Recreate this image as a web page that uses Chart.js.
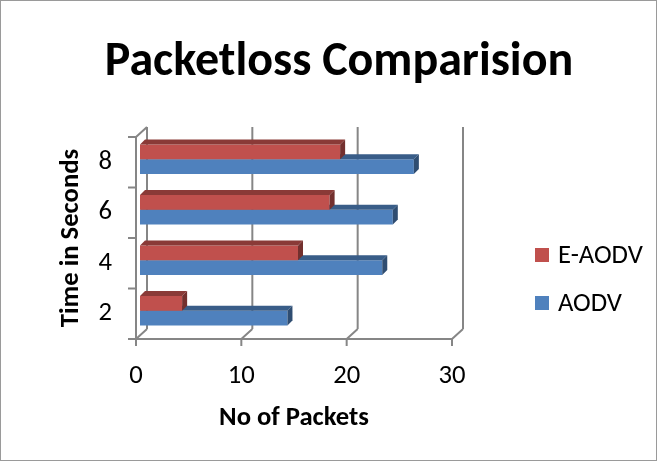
<!DOCTYPE html>
<html>
<head>
<meta charset="utf-8">
<script src="https://cdn.jsdelivr.net/npm/chart.js@4.4.1/dist/chart.umd.min.js"></script>
<style>
  html, body { margin: 0; padding: 0; background: #fff; }
  #wrap { width: 657px; height: 461px; }
</style>
</head>
<body>
<div id="wrap"><canvas id="chart" width="657" height="461"></canvas></div>
<script>
const categories = ['2', '4', '6', '8'];
const aodv = [14, 23, 24, 26];
const eAodv = [4, 15, 18, 19];
const xTicks = [0, 10, 20, 30];

const FONT = 'Carlito, Lato, "Liberation Sans", sans-serif';
const DX = 11, DY = -10;      // depth of the 3d box
const BAR_D = 5;              // depth of each bar
const GRID = '#868686';

function shade(hex, f) {
  let n = parseInt(hex.slice(1), 16);
  let r = Math.round(((n >> 16) & 255) * f), g = Math.round(((n >> 8) & 255) * f), b = Math.round((n & 255) * f);
  return 'rgb(' + r + ',' + g + ',' + b + ')';
}

const box3d = {
  id: 'box3d',
  beforeDraw(chart) {
    const c = chart.ctx;
    c.save();
    c.strokeStyle = '#9a9a9a';
    c.lineWidth = 1;
    c.strokeRect(0.5, 0.5, chart.width - 1, chart.height - 1);
    c.restore();
  },
  beforeDatasetsDraw(chart) {
    const c = chart.ctx, a = chart.chartArea, xs = chart.scales.x;
    c.save();
    c.strokeStyle = GRID;
    c.lineWidth = 2;
    c.beginPath();
    xTicks.forEach(v => {
      const x = xs.getPixelForValue(v);
      // back wall line
      c.moveTo(x + DX, a.top + DY);
      c.lineTo(x + DX, a.bottom + DY);
      // floor diagonal
      c.moveTo(x, a.bottom);
      c.lineTo(x + DX, a.bottom + DY);
      // tick mark
      c.moveTo(x, a.bottom);
      c.lineTo(x, a.bottom + 7);
    });
    // front axes
    c.moveTo(a.left, a.top);
    c.lineTo(a.left, a.bottom);
    c.lineTo(a.right, a.bottom);
    c.moveTo(a.left, a.top);
    c.lineTo(a.left + DX, a.top + DY);
    // category tick marks
    const n = categories.length;
    for (let i = 0; i <= n; i++) {
      const y = a.top + (a.bottom - a.top) * i / n;
      c.moveTo(a.left, y);
      c.lineTo(a.left - 8, y);
    }
    c.stroke();
    c.restore();

    c.save();
    c.translate(4, -3);
  },
  afterDatasetDraw(chart, args) {
    const c = chart.ctx, meta = args.meta;
    const col = chart.data.datasets[meta.index].backgroundColor;
    meta.data.forEach(bar => {
      const p = bar.getProps(['x', 'y', 'base', 'height'], true);
      const t = p.y - p.height / 2, b = p.y + p.height / 2;
      c.fillStyle = shade(col, 0.72);
      c.beginPath();
      c.moveTo(p.base, t);
      c.lineTo(p.base + BAR_D, t - BAR_D);
      c.lineTo(p.x + BAR_D, t - BAR_D);
      c.lineTo(p.x, t);
      c.closePath();
      c.fill();
      c.fillStyle = shade(col, 0.6);
      c.beginPath();
      c.moveTo(p.x, t);
      c.lineTo(p.x + BAR_D, t - BAR_D);
      c.lineTo(p.x + BAR_D, b - BAR_D);
      c.lineTo(p.x, b);
      c.closePath();
      c.fill();
    });
  },
  afterDatasetsDraw(chart) {
    chart.ctx.restore();
  },
  afterDraw(chart) {
    const c = chart.ctx;
    c.save();
    // title
    c.fillStyle = '#000';
    c.font = 'bold 48px ' + FONT;
    c.textAlign = 'center';
    c.textBaseline = 'alphabetic';
    c.fillText('Packetloss Comparision', 339, 75);
    // legend
    c.textAlign = 'left';
    c.font = '26.67px ' + FONT;
    chart.data.datasets.forEach((ds, i) => {
      const top = 248 + i * 48;
      c.fillStyle = ds.backgroundColor;
      c.fillRect(535, top, 14, 14);
      c.fillStyle = '#000';
      c.fillText(ds.label, 558, top + 15);
    });
    c.restore();
  }
};

new Chart(document.getElementById('chart'), {
  type: 'bar',
  data: {
    labels: categories,
    datasets: [
      { label: 'E-AODV', data: eAodv, backgroundColor: '#c0504d', borderWidth: 0 },
      { label: 'AODV', data: aodv, backgroundColor: '#4f81bd', borderWidth: 0 }
    ]
  },
  options: {
    indexAxis: 'y',
    responsive: false,
    animation: false,
    categoryPercentage: 0.58,
    barPercentage: 1,
    layout: { padding: { left: 55, right: 205, top: 137, bottom: 0 } },
    plugins: {
      legend: { display: false },
      tooltip: { enabled: false },
      title: { display: false }
    },
    scales: {
      x: {
        min: 0, max: 30,
        afterBuildTicks: s => { s.ticks = xTicks.map(v => ({ value: v })); },
        afterFit: s => { s.height = 122; },
        grid: { display: false },
        border: { display: false },
        ticks: { color: '#000', font: { family: FONT, size: 26.67 }, padding: 13 },
        title: {
          display: true, text: 'No of Packets', color: '#000',
          font: { family: FONT, size: 26.67, weight: 'bold' },
          padding: { top: 0, bottom: 27 }
        }
      },
      y: {
        reverse: true,
        afterFit: s => { s.width = 81; },
        grid: { display: false },
        border: { display: false },
        ticks: { color: '#000', font: { family: FONT, size: 26.67 }, padding: 16 },
        title: {
          display: true, text: 'Time in Seconds', color: '#000',
          font: { family: FONT, size: 26.67, weight: 'bold' },
          padding: { top: 0, bottom: 0 }
        }
      }
    }
  },
  plugins: [box3d]
});
</script>
</body>
</html>
